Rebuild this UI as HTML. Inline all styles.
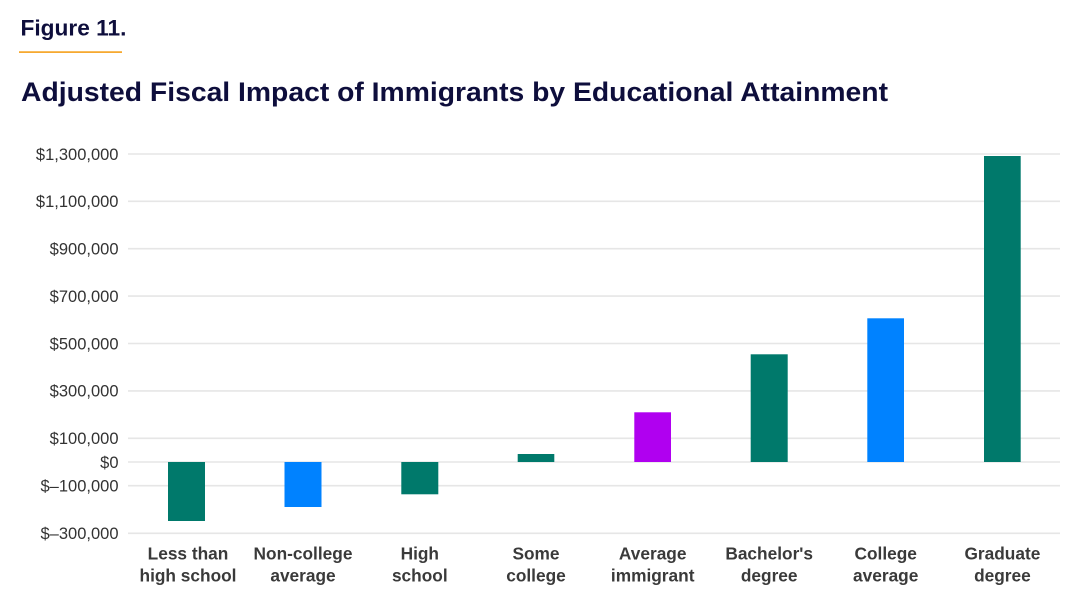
<!DOCTYPE html>
<html>
<head>
<meta charset="utf-8">
<style>
html,body{margin:0;padding:0;background:#fff;}
svg{display:block;}
</style>
</head>
<body>
<svg width="1081" height="606" viewBox="0 0 1081 606" xmlns="http://www.w3.org/2000/svg">
<rect x="0" y="0" width="1081" height="606" fill="#ffffff"/>
<text x="20.5" y="35.7" font-family="Liberation Sans, Arial, sans-serif" font-weight="bold" font-size="22" fill="#0e0e3c" textLength="106" lengthAdjust="spacingAndGlyphs">Figure 11.</text>
<rect x="19" y="51.3" width="103" height="1.6" fill="#f5a01a"/>
<text x="21" y="101" font-family="Liberation Sans, Arial, sans-serif" font-weight="bold" font-size="26.5" fill="#0e0e3c" textLength="867" lengthAdjust="spacingAndGlyphs">Adjusted Fiscal Impact of Immigrants by Educational Attainment</text>

<g stroke="#e6e6e6" stroke-width="1.6">
<line x1="128" y1="154" x2="1060" y2="154"/>
<line x1="128" y1="201.3" x2="1060" y2="201.3"/>
<line x1="128" y1="248.7" x2="1060" y2="248.7"/>
<line x1="128" y1="296.1" x2="1060" y2="296.1"/>
<line x1="128" y1="343.5" x2="1060" y2="343.5"/>
<line x1="128" y1="390.9" x2="1060" y2="390.9"/>
<line x1="128" y1="438.3" x2="1060" y2="438.3"/>
<line x1="128" y1="462" x2="1060" y2="462"/>
<line x1="128" y1="485.7" x2="1060" y2="485.7"/>
<line x1="128" y1="533.3" x2="1060" y2="533.3"/>
</g>

<g font-family="Liberation Sans, Arial, sans-serif" font-size="16.5" fill="#333333" text-anchor="end">
<text x="118.5" y="159.8">$1,300,000</text>
<text x="118.5" y="207.1">$1,100,000</text>
<text x="118.5" y="254.5">$900,000</text>
<text x="118.5" y="301.9">$700,000</text>
<text x="118.5" y="349.3">$500,000</text>
<text x="118.5" y="396.7">$300,000</text>
<text x="118.5" y="444.1">$100,000</text>
<text x="118.5" y="467.8">$0</text>
<text x="118.5" y="491.5">$–100,000</text>
<text x="118.5" y="539.1">$–300,000</text>
</g>

<g>
<rect x="168" y="462" width="37" height="59" fill="#00796b"/>
<rect x="284.5" y="462" width="37" height="45" fill="#0082ff"/>
<rect x="401.3" y="462" width="37" height="32.3" fill="#00796b"/>
<rect x="517.7" y="454" width="36.6" height="8" fill="#00796b"/>
<rect x="634.3" y="412.3" width="36.7" height="49.7" fill="#b000f0"/>
<rect x="750.7" y="354.3" width="37" height="107.7" fill="#00796b"/>
<rect x="867.3" y="318.3" width="36.7" height="143.7" fill="#0082ff"/>
<rect x="984" y="156" width="36.7" height="306" fill="#00796b"/>
</g>

<g font-family="Liberation Sans, Arial, sans-serif" font-weight="bold" font-size="17.3" fill="#3a3a3a" text-anchor="middle">
<text x="188" y="559.5">Less than</text>
<text x="188" y="581.5">high school</text>
<text x="303" y="559.5">Non-college</text>
<text x="303" y="581.5">average</text>
<text x="419.8" y="559.5">High</text>
<text x="419.8" y="581.5">school</text>
<text x="536" y="559.5">Some</text>
<text x="536" y="581.5">college</text>
<text x="652.7" y="559.5">Average</text>
<text x="652.7" y="581.5">immigrant</text>
<text x="769.2" y="559.5">Bachelor's</text>
<text x="769.2" y="581.5">degree</text>
<text x="885.7" y="559.5">College</text>
<text x="885.7" y="581.5">average</text>
<text x="1002.4" y="559.5">Graduate</text>
<text x="1002.4" y="581.5">degree</text>
</g>
</svg>
</body>
</html>
